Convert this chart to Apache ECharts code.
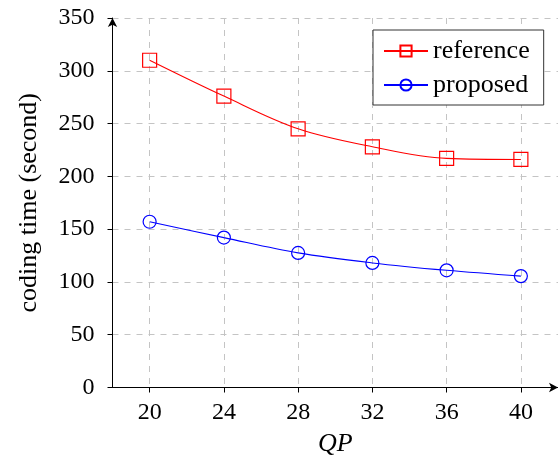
<!DOCTYPE html>
<html>
<head>
<meta charset="utf-8">
<script src="https://cdn.jsdelivr.net/npm/echarts@6/dist/echarts.min.js"></script>
<style>
  html, body { margin: 0; padding: 0; background: #fff; }
  #chart { width: 558px; height: 464px; }
</style>
</head>
<body>
<div id="chart"></div>
<script>
// Coding time versus quantisation parameter
const qpValues = [20, 24, 28, 32, 36, 40];
const referenceTime = [310, 276, 245, 228, 217, 216];
const proposedTime = [157, 142, 127.5, 118, 111, 105.5];
const yTicks = [0, 50, 100, 150, 200, 250, 300, 350];

const serif = '"Liberation Serif", "DejaVu Serif", serif';
const gridLine = { show: true, lineStyle: { color: '#c4c4c4', type: [6, 6], width: 1 } };

function pairs(xs, ys) {
  return xs.map((x, i) => [x, ys[i]]);
}

const chart = echarts.init(document.getElementById('chart'), null, { renderer: 'canvas' });

chart.setOption({
  animation: false,
  backgroundColor: '#fff',
  textStyle: { fontFamily: serif, color: '#000' },
  grid: { left: 112.5, right: -0.5, top: 18, bottom: 76.5, containLabel: false },
  legend: {
    left: 373,
    top: 30,
    orient: 'vertical',
    backgroundColor: '#fff',
    borderColor: '#333',
    borderWidth: 1,
    padding: [8, 14, 7, 10],
    itemGap: 8,
    itemWidth: 44,
    itemHeight: 14,
    textStyle: { fontFamily: serif, fontSize: 26, color: '#000' },
    data: ['reference', 'proposed']
  },
  xAxis: {
    type: 'value',
    min: 18,
    max: 42,
    name: 'QP',
    nameLocation: 'middle',
    nameGap: 44,
    nameTextStyle: { fontFamily: serif, fontStyle: 'italic', fontSize: 26, color: '#000' },
    axisLine: { show: true, lineStyle: { color: '#000', width: 1 }, symbol: ['none', 'arrow'], symbolSize: [7, 9] },
    axisTick: { show: true, length: 5, lineStyle: { color: '#000' }, customValues: qpValues },
    axisLabel: { customValues: qpValues, fontFamily: serif, fontSize: 24, color: '#000', margin: 13 },
    splitLine: gridLine
  },
  yAxis: {
    type: 'value',
    min: 0,
    max: 350,
    interval: 50,
    name: 'coding time (second)',
    nameLocation: 'middle',
    nameGap: 70,
    nameTextStyle: { fontFamily: serif, fontSize: 26, color: '#000' },
    axisLine: { show: true, lineStyle: { color: '#000', width: 1 }, symbol: ['none', 'arrow'], symbolSize: [7, 9] },
    axisTick: { show: true, length: 5, lineStyle: { color: '#000' } },
    axisLabel: {
      fontFamily: serif, fontSize: 24, color: '#000', margin: 18,
      formatter: v => (yTicks.indexOf(v) >= 0 ? String(v) : '')
    },
    splitLine: gridLine
  },
  series: [
    {
      name: 'reference',
      type: 'line',
      data: pairs(qpValues, referenceTime),
      smooth: 0.35,
      symbol: 'rect',
      symbolSize: 14,
      lineStyle: { color: '#ff0000', width: 1.1 },
      itemStyle: { color: 'rgba(255,255,255,0)', borderColor: '#ff0000', borderWidth: 1.2 },
      z: 3
    },
    {
      name: 'proposed',
      type: 'line',
      data: pairs(qpValues, proposedTime),
      smooth: 0.35,
      symbol: 'circle',
      symbolSize: 13,
      lineStyle: { color: '#0000ff', width: 1.1 },
      itemStyle: { color: 'rgba(255,255,255,0)', borderColor: '#0000ff', borderWidth: 1.2 },
      z: 3
    }
  ]
});
</script>
</body>
</html>
